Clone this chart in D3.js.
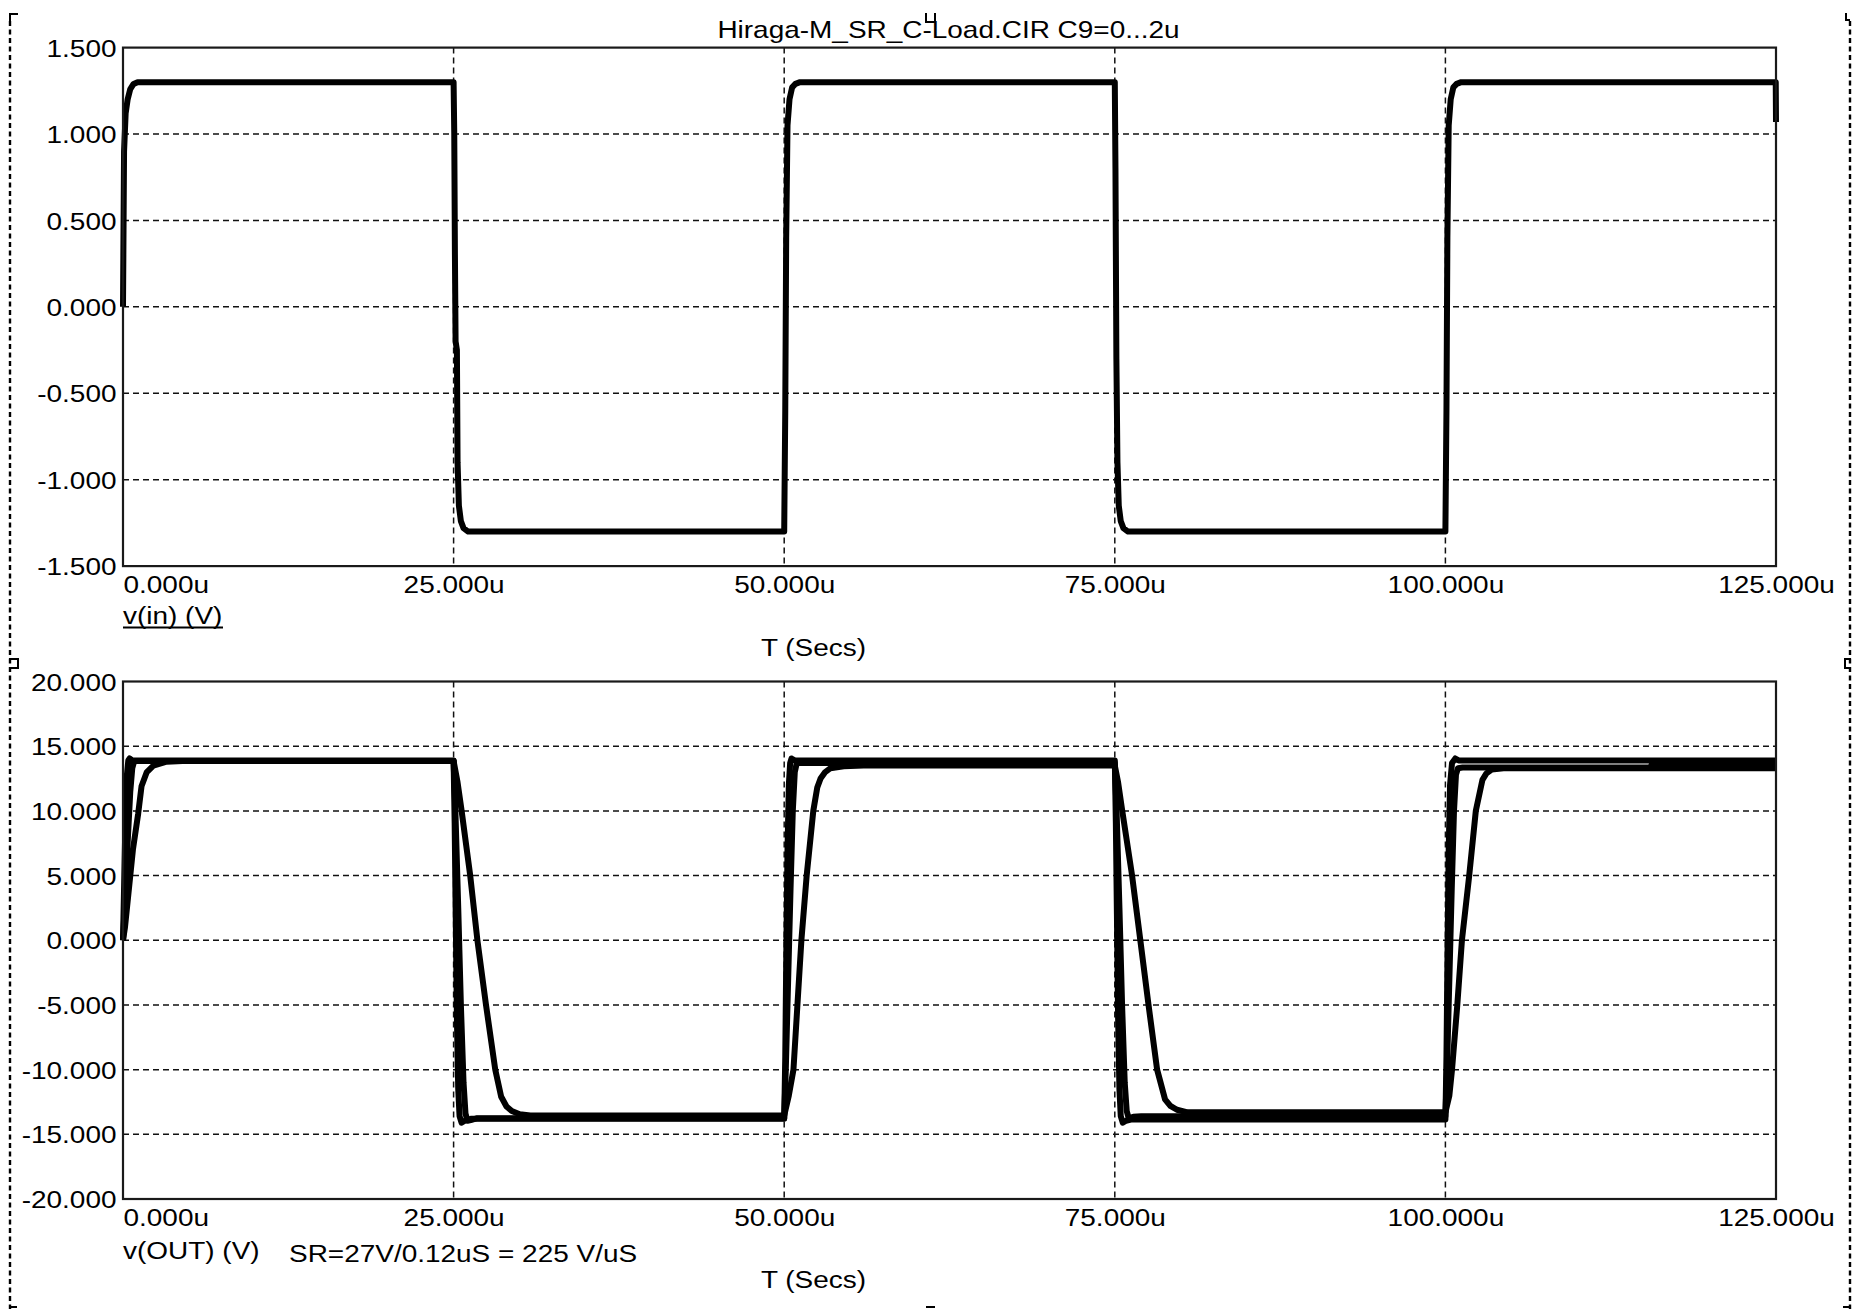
<!DOCTYPE html>
<html>
<head>
<meta charset="utf-8">
<script src="https://cdn.jsdelivr.net/npm/d3@7/dist/d3.min.js"></script>
<style>
  html, body { margin: 0; padding: 0; background: #fff; }
  svg { display: block; }
  text { font-family: "Liberation Sans", Arial, sans-serif; font-size: 24px; fill: #000; }
</style>
</head>
<body>
<svg id="chart" width="1865" height="1309"></svg>
<script>
// ---- Data: time in microseconds, voltage in volts ----
const titleText = "Hiraga-M_SR_C-Load.CIR C9=0...2u";
const timeTicks = [0, 25, 50, 75, 100, 125];
const vInTicks = [1.5, 1.0, 0.5, 0.0, -0.5, -1.0, -1.5];
const vOutTicks = [20, 15, 10, 5, 0, -5, -10, -15, -20];

// v(in): square-wave drive signal
const vIn = [
  [0, 0], [0.08, 0.9], [0.2, 1.12], [0.35, 1.2], [0.55, 1.26], [0.8, 1.29], [1.1, 1.3],
  [25, 1.3], [25.05, 1.0], [25.1, 0.3], [25.15, -0.2], [25.25, -0.25], [25.3, -0.9], [25.4, -1.15], [25.55, -1.24], [25.75, -1.28], [26.1, -1.3],
  [50, -1.3], [50.08, -0.6], [50.15, 0.4], [50.25, 1.05], [50.4, 1.2], [50.6, 1.27], [50.85, 1.29], [51.2, 1.3],
  [75, 1.3], [75.05, 0.8], [75.12, -0.3], [75.2, -0.9], [75.3, -1.15], [75.45, -1.24], [75.65, -1.28], [76.0, -1.3],
  [100, -1.3], [100.08, -0.6], [100.15, 0.4], [100.25, 1.05], [100.4, 1.2], [100.6, 1.27], [100.85, 1.29], [101.2, 1.3],
  [124.98, 1.3], [125, 1.07]
];

// v(OUT) with C9 = 0
const vOutC9a = [
  [0, 0], [0.1, 5], [0.2, 10], [0.3, 12.8], [0.4, 13.9], [0.5, 14.05], [0.7, 13.9],
  [25, 13.9], [25.08, 9], [25.16, 2], [25.25, -6], [25.35, -11.5], [25.45, -13.6], [25.6, -14.1], [25.85, -13.95], [26.3, -13.8],
  [50, -13.8], [50.08, -9], [50.16, -1], [50.25, 7], [50.35, 12], [50.45, 13.7], [50.55, 14.05], [50.8, 13.9],
  [75, 13.9], [75.08, 9], [75.16, 2], [75.25, -6], [75.35, -11.5], [75.45, -13.6], [75.6, -14.1], [75.85, -13.95], [76.3, -13.85],
  [100, -13.85], [100.08, -9], [100.16, -1], [100.25, 7], [100.35, 12], [100.5, 13.7], [100.75, 14.05], [101.0, 13.9],
  [125, 13.9]
];

// v(OUT) with C9 = 1u
const vOutC9b = [
  [0, 0], [0.15, 3], [0.35, 7.5], [0.55, 11.5], [0.7, 13.3], [0.85, 13.85],
  [25, 13.85], [25.15, 9.5], [25.35, 2.5], [25.55, -5], [25.75, -11], [25.9, -13.4], [26.05, -13.95], [26.3, -13.9], [26.8, -13.75],
  [50, -13.75], [50.12, -10], [50.3, -3], [50.48, 4], [50.65, 10], [50.8, 13], [50.95, 13.7], [51.3, 13.7],
  [75, 13.7], [75.15, 9.5], [75.35, 2.5], [75.55, -5], [75.75, -11], [75.9, -13.2], [76.05, -13.75], [76.4, -13.65], [77, -13.6],
  [100, -13.6], [100.12, -10], [100.3, -3], [100.48, 4], [100.65, 10], [100.8, 12.8], [100.95, 13.3], [101.3, 13.35],
  [115.5, 13.35], [115.6, 13.6], [125, 13.6]
];

// v(OUT) with C9 = 2u (slew-limited)
const vOutC9c = [
  [0, 0], [0.15, 1], [0.45, 4], [0.75, 7], [1.15, 9.8], [1.4, 11.9], [1.8, 13.0], [2.3, 13.5], [3.3, 13.8], [4.5, 13.85],
  [25, 13.85], [25.3, 12.2], [25.6, 10.05], [26.25, 5.05], [26.8, 0], [27.45, -5], [28.15, -10], [28.6, -12.1], [29.0, -12.85], [29.4, -13.2], [30.0, -13.45], [30.8, -13.55],
  [50, -13.55], [50.35, -12], [50.7, -10], [51.0, -5], [51.3, 0], [51.7, 5], [52.2, 10], [52.5, 11.8], [52.75, 12.5], [53.1, 13.0], [53.5, 13.3], [54.5, 13.45], [56, 13.5],
  [75, 13.5], [75.25, 12.2], [75.55, 10.1], [76.3, 5.05], [76.93, 0], [77.55, -5], [78.2, -10], [78.8, -12.3], [79.2, -12.8], [79.7, -13.1], [80.5, -13.3],
  [100, -13.3], [100.3, -12], [100.5, -10], [100.9, -5], [101.25, 0], [101.8, 5], [102.3, 10], [102.8, 12.4], [103.1, 12.9], [103.5, 13.2], [104.4, 13.3],
  [125, 13.3]
];

// ---- Layout ----
const svg = d3.select("#chart");
const plotLeft = 123, plotRight = 1776;
const SX = 1.165; // horizontal stretch of the label font

const locale = d3.formatLocale({decimal: ".", thousands: ",", grouping: [3], currency: ["", ""], minus: "-"});
const fmt3 = locale.format(".3f");

const x = d3.scaleLinear().domain([0, 125]).range([plotLeft, plotRight]);

function label(g, txt, px, py, anchor) {
  return g.append("g")
    .attr("transform", `translate(${px},${py}) scale(${SX},1)`)
    .append("text")
    .attr("text-anchor", anchor || "start")
    .text(txt);
}

function panel(top, bottom, domain, yTicks, series, lineW) {
  const y = d3.scaleLinear().domain(domain).range([bottom, top]);
  const g = svg.append("g");

  // grid
  const grid = g.append("g").attr("stroke", "#111").attr("stroke-width", 1.5)
    .attr("stroke-dasharray", "6,4").attr("fill", "none");
  yTicks.filter(v => v !== domain[0] && v !== domain[1]).forEach(v => {
    grid.append("line").attr("x1", plotLeft).attr("x2", plotRight)
      .attr("y1", y(v)).attr("y2", y(v));
  });
  timeTicks.filter(t => t !== 0 && t !== 125).forEach(t => {
    grid.append("line").attr("x1", x(t)).attr("x2", x(t))
      .attr("y1", top).attr("y2", bottom);
  });

  // y axis labels
  const yAxis = d3.axisLeft(y).tickValues(yTicks).tickFormat(fmt3).tickSize(0).tickPadding(0);
  const ya = g.append("g").attr("transform", `translate(${plotLeft},0)`).call(yAxis);
  ya.select(".domain").remove();
  ya.selectAll(".tick text")
    .attr("x", null).attr("dy", null)
    .attr("transform", `translate(-6.5,8.6) scale(${SX},1)`)
    .attr("text-anchor", "end")
    .style("font-family", "'Liberation Sans', Arial, sans-serif")
    .style("font-size", "24px").attr("fill", "#000");

  // x axis labels
  const xAxis = d3.axisBottom(x).tickValues(timeTicks).tickFormat(d => fmt3(d) + "u").tickSize(0).tickPadding(0);
  const xa = g.append("g").attr("transform", `translate(0,${bottom})`).call(xAxis);
  xa.select(".domain").remove();
  xa.selectAll(".tick text")
    .attr("y", null).attr("dy", null)
    .attr("transform", `translate(0,27) scale(${SX},1)`)
    .attr("text-anchor", d => d === 0 ? "start" : "middle")
    .style("font-family", "'Liberation Sans', Arial, sans-serif")
    .style("font-size", "24px").attr("fill", "#000");

  // traces
  const line = d3.line().x(d => x(d[0])).y(d => y(d[1]));
  series.forEach(s => {
    g.append("path").datum(s).attr("d", line)
      .attr("fill", "none").attr("stroke", "#000")
      .attr("stroke-width", lineW).attr("stroke-linejoin", "round").attr("stroke-linecap", "butt");
  });

  // plot frame
  g.append("rect").attr("x", plotLeft).attr("y", top)
    .attr("width", plotRight - plotLeft).attr("height", bottom - top)
    .attr("fill", "none").attr("stroke", "#1a1a1a").attr("stroke-width", 2.2);
  return y;
}

panel(47.6, 566.1, [-1.5, 1.5], vInTicks, [vIn], 6);
panel(681.5, 1199, [-20, 20], vOutTicks, [vOutC9c, vOutC9b, vOutC9a], 6);

// titles and captions
label(svg, titleText, 948.5, 37.5, "middle");
label(svg, "v(in) (V)", plotLeft, 624, "start");
svg.append("line").attr("x1", plotLeft).attr("x2", plotLeft + 100)
  .attr("y1", 627.5).attr("y2", 627.5).attr("stroke", "#000").attr("stroke-width", 1.8);
label(svg, "T (Secs)", 813.5, 656, "middle");
label(svg, "v(OUT) (V)", plotLeft, 1259, "start");
label(svg, "SR=27V/0.12uS = 225 V/uS", 289, 1262, "start");
label(svg, "T (Secs)", 813.5, 1288, "middle");

// dashed window frame and selection handles
const frame = svg.append("g").attr("fill", "none").attr("stroke", "#000").attr("stroke-width", 2.4);
frame.append("line").attr("x1", 10).attr("x2", 10).attr("y1", 21).attr("y2", 1309).attr("stroke-dasharray", "5,3.5");
frame.append("line").attr("x1", 1850).attr("x2", 1850).attr("y1", 21).attr("y2", 1309).attr("stroke-dasharray", "5,3.5");
[
  "M10,21 V14 H18",
  "M1846,13 V20 H1850",
  "M926,13 V22 H935 V13",
  "M9,659 H18 V668 H9",
  "M1851,659 H1845 V668 H1851",
  "M10,1307 H17",
  "M926,1307 H935",
  "M1843,1307 H1850"
].forEach(d => frame.append("path").attr("d", d).attr("stroke-width", 2));
</script>
</body>
</html>
